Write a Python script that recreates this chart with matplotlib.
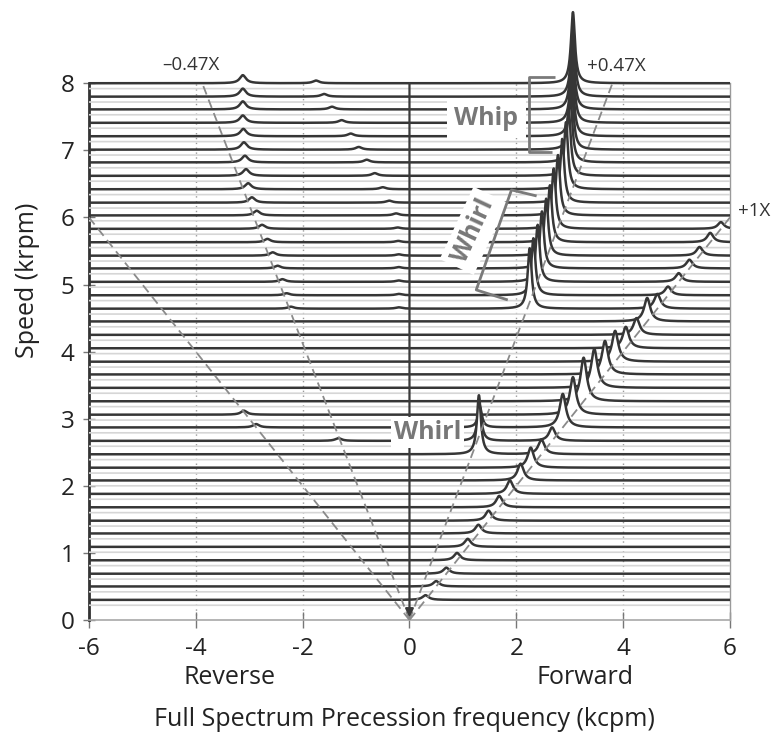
import numpy as np
import matplotlib
matplotlib.use('Agg')
import matplotlib.pyplot as plt

plt.rcParams['font.family'] = ['Open Sans', 'DejaVu Sans']
plt.rcParams['axes.unicode_minus'] = False

# speed of each trace (krpm)
speeds = [0.30, 0.50, 0.69, 0.89, 1.09, 1.29, 1.48, 1.68, 1.88, 2.08,
          2.27, 2.47, 2.67, 2.87, 3.06, 3.26, 3.46, 3.66, 3.85, 4.05,
          4.25, 4.45, 4.64, 4.84, 5.04, 5.24, 5.43, 5.63, 5.83, 6.03,
          6.22, 6.42, 6.62, 6.82, 7.01, 7.21, 7.41, 7.61, 7.80, 8.00]

# 1X (synchronous) peak height, drawn at f = speed
amp_1x = [0.07, 0.08, 0.09, 0.11, 0.12, 0.13, 0.15, 0.17, 0.20, 0.25,
          0.30, 0.22, 0.20, 0.50, 0.56, 0.65, 0.58, 0.50, 0.46, 0.32,
          0.25, 0.35, 0.22, 0.13, 0.13, 0.13, 0.13, 0.14, 0.10, 0.00,
          0.00, 0.00, 0.00, 0.00, 0.00, 0.00, 0.00, 0.00, 0.00, 0.00]

# forward subsynchronous peak (whirl / whip)
sub_freq = [0, 0, 0, 0, 0, 0, 0, 0, 0, 0,
            0, 1.30, 1.31, 1.32, 0, 0, 0, 0, 0, 0,
            0, 0, 2.25, 2.32, 2.40, 2.48, 2.56, 2.63, 2.70, 2.78,
            2.86, 2.93, 2.98, 3.01, 3.03, 3.04, 3.05, 3.05, 3.06, 3.06]
sub_amp = [0, 0, 0, 0, 0, 0, 0, 0, 0, 0,
           0, 0.88, 0.55, 0.30, 0, 0, 0, 0, 0, 0,
           0, 0, 0.90, 0.85, 0.85, 0.85, 0.85, 0.85, 0.90, 0.90,
           0.95, 1.00, 1.00, 1.02, 1.02, 1.04, 1.04, 1.05, 1.05, 1.06]

# reverse peaks
rev_freq = [0, 0, 0, 0, 0, 0, 0, 0, 0, 0,
            0, 0, -1.33, -2.87, -3.10, 0, 0, 0, 0, 0,
            0, 0, -2.22, -2.30, -2.38, -2.47, -2.56, -2.66, -2.76, -2.86,
            -2.95, -3.02, -3.06, -3.08, -3.10, -3.11, -3.12, -3.12, -3.12, -3.12]
rev_amp = [0, 0, 0, 0, 0, 0, 0, 0, 0, 0,
           0, 0, 0.04, 0.05, 0.06, 0, 0, 0, 0, 0,
           0, 0, 0.03, 0.03, 0.04, 0.04, 0.05, 0.05, 0.06, 0.07,
           0.08, 0.09, 0.10, 0.10, 0.11, 0.11, 0.11, 0.12, 0.12, 0.12]

# small secondary reverse bumps
minor_freq = [0, 0, 0, 0, 0, 0, 0, 0, 0, 0,
              0, 0, 0, 0, 0, 0, 0, 0, 0, 0,
              0, 0, -0.20, -0.20, -0.20, -0.20, -0.20, -0.21, -0.22, -0.25,
              -0.38, -0.50, -0.65, -0.80, -0.95, -1.10, -1.27, -1.45, -1.60, -1.75]
minor_amp = [0, 0, 0, 0, 0, 0, 0, 0, 0, 0,
             0, 0, 0, 0, 0, 0, 0, 0, 0, 0,
             0, 0, 0.02, 0.02, 0.02, 0.02, 0.02, 0.02, 0.02, 0.03,
             0.03, 0.03, 0.04, 0.04, 0.04, 0.04, 0.04, 0.04, 0.04, 0.04]

xticks = [-6, -4, -2, 0, 2, 4, 6]
yticks = [0, 1, 2, 3, 4, 5, 6, 7, 8]


def lor(f, f0, w):
    return 1.0 / (1.0 + ((f - f0) / w) ** 2)


fig = plt.figure(figsize=(7.71, 7.36), dpi=100)
ax = fig.add_axes([0.1154, 0.1576, 0.8314, 0.8387])
ax.set_xlim(-6, 6)
ax.set_ylim(0, 9.2)

f = np.linspace(-6, 6, 4001)
n = len(speeds)
line_c = '#363636'
for i in reversed(range(n)):
    s = speeds[i]
    y = np.full_like(f, s)
    if amp_1x[i] > 0:
        y += amp_1x[i] * lor(f, s, 0.07)
    if sub_amp[i] > 0:
        y += sub_amp[i] * lor(f, sub_freq[i], 0.045)
    if rev_amp[i] > 0:
        y += rev_amp[i] * lor(f, rev_freq[i], 0.07)
    if minor_amp[i] > 0:
        y += minor_amp[i] * lor(f, minor_freq[i], 0.07)
    z = 10 + 3 * (n - i)
    ax.fill_between(f, s, y, color='white', lw=0, zorder=z)
    ax.plot(f, np.full_like(f, s - 0.08), color='#d6d6d6', lw=1.2, zorder=z + 1)
    ax.plot(f, y, color=line_c, lw=1.8, zorder=z + 2, solid_joinstyle='round')

# grid
ax.vlines([-4, -2, 2, 4], 0, 8, colors='#9a9a9a', linestyles=(0, (1, 2.5)), lw=1, zorder=1)

# order lines
dash = dict(color='#8a8a8a', lw=1.3, ls=(0, (5, 3)), zorder=160)
ax.plot([0, -3.88], [0, 8], **dash)
ax.plot([0, 3.80], [0, 8], **dash)
ax.plot([0, -6], [0, 6], **dash)
ax.plot([0, 6], [0, 6], **dash)

# zero line with arrow
ax.annotate('', xy=(0, 0.04), xytext=(0, 8.0),
            arrowprops=dict(arrowstyle='-|>', color='#3a3a3a', lw=1.6,
                            mutation_scale=12, shrinkA=0, shrinkB=0),
            zorder=170)

# spines and ticks
ax.spines['top'].set_visible(False)
ax.spines['left'].set_bounds(0, 8)
ax.spines['left'].set_color('#333333')
ax.spines['left'].set_linewidth(2)
ax.spines['right'].set_bounds(0, 8)
ax.spines['right'].set_color('#9a9a9a')
ax.spines['right'].set_linewidth(1)
ax.spines['bottom'].set_color('#a8a8a8')
ax.spines['bottom'].set_linewidth(1.2)
ax.set_xticks(xticks)
ax.set_yticks(yticks)
ax.tick_params(axis='y', direction='inout', length=9, width=1, color='#777777',
               labelsize=17.5, pad=6, labelcolor='#222222')
ax.tick_params(axis='x', direction='inout', length=12, width=1, color='#777777',
               labelsize=17.5, pad=6, labelcolor='#222222')

# text
lab = dict(fontsize=13.5, color='#333333', zorder=200)
ax.text(-4.1, 8.27, '–0.47X', ha='center', va='center', **lab)
ax.text(3.33, 8.25, '+0.47X', ha='left', va='center', **lab)
ax.text(6.15, 6.1, '+1X', ha='left', va='center', clip_on=False, **lab)

ax.text(1.44, 7.48, 'Whip', fontsize=18, fontweight='bold', color='#777777',
        ha='center', va='center', zorder=200,
        bbox=dict(facecolor='white', edgecolor='none', boxstyle='square,pad=0.3'))
ax.text(0.34, 2.79, 'Whirl', fontsize=18, fontweight='bold', color='#777777',
        ha='center', va='center', zorder=200,
        bbox=dict(facecolor='white', edgecolor='none', boxstyle='square,pad=0.12'))
ax.text(1.2, 5.8, 'Whirl', fontsize=18, fontweight='bold', color='#777777',
        ha='center', va='center', rotation=65, rotation_mode='anchor', zorder=200,
        bbox=dict(facecolor='white', edgecolor='none', boxstyle='square,pad=0.25'))

br = dict(color='#7a7a7a', lw=2, zorder=210, solid_capstyle='butt')
ax.plot([2.72, 2.23, 2.23, 2.66], [8.1, 8.1, 6.98, 6.98], **br)
ax.plot([2.38, 1.91, 1.25, 1.84], [6.32, 6.41, 4.92, 4.77], **br)

ax.text(-3.37, -0.85, 'Reverse', ha='center', va='center', fontsize=18,
        color='#222222', clip_on=False)
ax.text(3.28, -0.85, 'Forward', ha='center', va='center', fontsize=18,
        color='#222222', clip_on=False)
ax.text(-0.09, -1.49, 'Full Spectrum Precession frequency (kcpm)', ha='center',
        va='center', fontsize=18, color='#222222', clip_on=False)
fig.text(28 / 771, 1 - 280 / 736, 'Speed (krpm)', rotation=90, ha='center',
         va='center', fontsize=18, color='#222222')

fig.savefig('out.png', dpi=100, facecolor='white')
